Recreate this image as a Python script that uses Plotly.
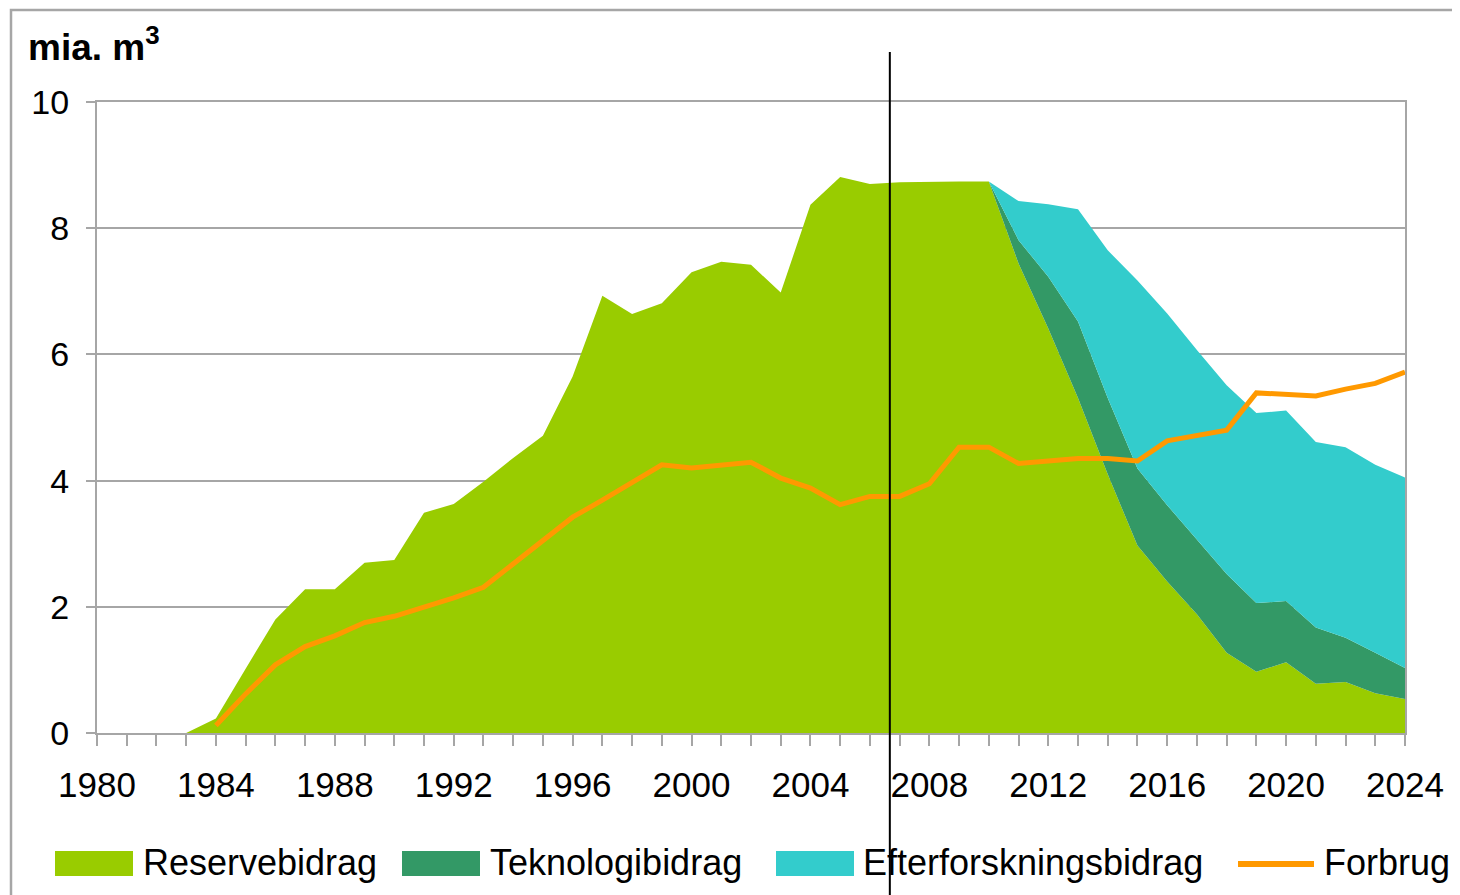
import plotly.graph_objects as go

years = list(range(1983, 2025))
reserve = [0.0, 0.23, 1.02, 1.80, 2.28, 2.28, 2.70, 2.74, 3.49, 3.63, 3.98, 4.36, 4.71, 5.65,
           6.93, 6.64, 6.81, 7.30, 7.47, 7.42, 6.98, 8.37, 8.81, 8.70, 8.73, 8.74, 8.74, 8.74,
           7.44, 6.41, 5.31, 4.10, 2.97, 2.40, 1.88, 1.27, 0.97, 1.12, 0.78, 0.81, 0.63, 0.54]
proj_years = list(range(2010, 2025))
teknologi = [0.0, 0.37, 0.82, 1.21, 1.21, 1.22, 1.21, 1.18, 1.25, 1.09, 0.97, 0.89, 0.70, 0.64, 0.49]
efterforskning = [0.0, 0.62, 1.15, 1.78, 2.34, 2.98, 3.04, 3.01, 2.99, 3.01, 3.02, 2.94, 3.02, 2.98, 3.02]
forbrug_years = list(range(1984, 2025))
forbrug = [0.12, 0.62, 1.08, 1.37, 1.54, 1.75, 1.85, 1.99, 2.14, 2.31, 2.68, 3.05, 3.42, 3.69,
           3.98, 4.25, 4.20, 4.25, 4.29, 4.04, 3.88, 3.62, 3.75, 3.75, 3.95, 4.53, 4.53, 4.27,
           4.31, 4.35, 4.35, 4.31, 4.63, 4.72, 4.80, 5.39, 5.37, 5.34, 5.45, 5.54, 5.72]
tick_years = list(range(1980, 2025, 4))
divider_year = 2006.67

names = ["Reservebidrag", "Teknologibidrag", "Efterforskningsbidrag", "Forbrug"]
colors = ["#99CC00", "#339966", "#33CCCC", "#FF9900"]

# zeros before the projection period so the stacked series share one x array
pre = [y for y in years if y < 2010]
tek_full = [0.0] * len(pre) + teknologi
eft_full = [0.0] * len(pre) + efterforskning

fig = go.Figure()
fig.add_trace(go.Scatter(x=years, y=reserve, stackgroup="s", mode="lines",
                         line=dict(width=0, color=colors[0]), fillcolor=colors[0],
                         name=names[0], showlegend=False))
fig.add_trace(go.Scatter(x=years, y=tek_full, stackgroup="s", mode="lines",
                         line=dict(width=0, color=colors[1]), fillcolor=colors[1],
                         name=names[1], showlegend=False))
fig.add_trace(go.Scatter(x=years, y=eft_full, stackgroup="s", mode="lines",
                         line=dict(width=0, color=colors[2]), fillcolor=colors[2],
                         name=names[2], showlegend=False))
fig.add_trace(go.Scatter(x=forbrug_years, y=forbrug, mode="lines",
                         line=dict(width=5, color=colors[3]),
                         name=names[3], showlegend=False))

font_family = "Liberation Sans, Arial, sans-serif"
grid_col = "#A6A6A6"

OFF = 8  # page body margin
W, H = 1460 - OFF, 895 - OFF
L, R, T, B = 97 - OFF, 55, 102 - OFF, 162
pw, ph = W - L - R, H - T - B

def px(xp):
    return (xp - OFF - L) / pw

def py(yp):
    return (H - B - (yp - OFF)) / ph

shapes = []
# outer chart border
shapes.append(dict(type="rect", xref="paper", yref="paper",
                   x0=px(11), x1=px(1475), y0=py(910), y1=py(10),
                   line=dict(color="#A6A6A6", width=2.5), fillcolor="rgba(0,0,0,0)", layer="below"))
# vertical divider
shapes.append(dict(type="line", xref="x", yref="paper",
                   x0=divider_year, x1=divider_year, y0=py(900), y1=py(52),
                   line=dict(color="black", width=2), layer="above"))

annotations = [dict(text="<b>mia. m<sup>3</sup></b>", xref="paper", yref="paper",
                    x=px(26), y=py(45), xanchor="left", yanchor="middle", showarrow=False,
                    font=dict(family=font_family, size=37, color="black"))]

# legend drawn as swatches + labels
sw_x = [55, 402, 776]
txt_x = [141, 488, 861, 1322]
leg_y = 862
for i in range(3):
    shapes.append(dict(type="rect", xref="paper", yref="paper",
                       x0=px(sw_x[i]), x1=px(sw_x[i] + 78), y0=py(876), y1=py(851),
                       fillcolor=colors[i], line=dict(width=0)))
shapes.append(dict(type="line", xref="paper", yref="paper",
                   x0=px(1238), x1=px(1314), y0=py(864), y1=py(864),
                   line=dict(color=colors[3], width=6)))
for i in range(4):
    annotations.append(dict(text=names[i], xref="paper", yref="paper",
                            x=px(txt_x[i]), y=py(leg_y), xanchor="left", yanchor="middle",
                            showarrow=False, font=dict(family=font_family, size=36, color="black")))

fig.update_layout(
    width=W, height=H,
    margin=dict(l=L, r=R, t=T, b=B, pad=0),
    plot_bgcolor="white", paper_bgcolor="white",
    font=dict(family=font_family, size=35, color="black"),
    showlegend=False,
    shapes=shapes,
    annotations=annotations,
    xaxis=dict(range=[1980, 2024], tickmode="array", tickvals=tick_years,
               ticktext=[str(y) for y in tick_years],
               ticks="outside", ticklen=11, tickwidth=2, tickcolor=grid_col,
               showline=True, linecolor=grid_col, linewidth=2, mirror=True,
               showgrid=False, zeroline=False, ticklabelstandoff=9,
               minor=dict(tickmode="linear", tick0=1980, dtick=1, ticks="outside",
                          ticklen=11, tickwidth=2, tickcolor=grid_col, showgrid=False),
               tickfont=dict(size=35)),
    yaxis=dict(range=[0, 10], tickmode="linear", tick0=0, dtick=2,
               ticks="outside", ticklen=9, tickwidth=2, tickcolor=grid_col,
               showline=True, linecolor=grid_col, linewidth=2, mirror=True,
               showgrid=True, gridcolor=grid_col, gridwidth=2, zeroline=False,
               ticklabelstandoff=10, tickfont=dict(size=34)),
)

fig.write_html("out.html")
